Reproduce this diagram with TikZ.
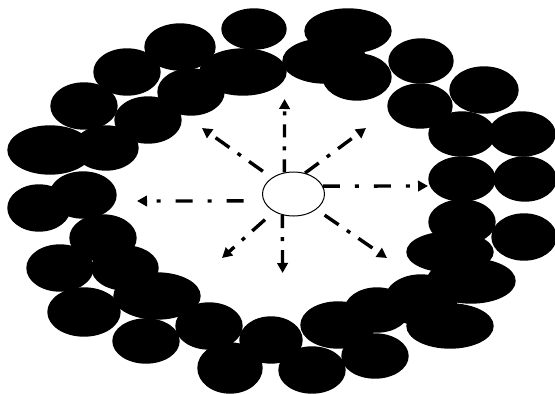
\documentclass[tikz,border=0pt]{standalone}
\usetikzlibrary{arrows.meta,shapes.geometric}
\begin{document}
\begin{tikzpicture}[
  x=1pt, y=-1pt,
  blob/.style={fill=black, draw=black, line width=1.4pt},
  hubnode/.style={draw, ellipse, line width=1pt, inner sep=0pt,
                  minimum width=62pt, minimum height=44pt},
  ray/.style={line width=3.4pt, -{Triangle[length=10pt,width=10.5pt]}},
  vray/.style={ray, dash pattern=on 13pt off 9pt on 4pt off 9pt},
  hray/.style={ray, dash pattern=on 17pt off 15pt on 4pt off 15pt},
  dray/.style={ray, dash pattern=on 17pt off 10pt on 4pt off 10pt},
]
  \useasboundingbox (0,0) rectangle (555,394);

  % ring of cells
  \path[blob] (254,29)  ellipse (32 and 20);
  \path[blob] (348,31)  ellipse (43 and 22);
  \path[blob] (180,47)  ellipse (35 and 23);
  \path[blob] (127,72)  ellipse (33 and 23);
  \path[blob] (84,106)  ellipse (33 and 23);
  \path[blob] (50,150)  ellipse (42 and 24);
  \path[blob] (106,148) ellipse (32 and 22);
  \path[blob] (148,120) ellipse (33 and 23);
  \path[blob] (191,92)  ellipse (33 and 23);
  \path[blob] (243,72)  ellipse (43 and 23);
  \path[blob] (325,61)  ellipse (42 and 22);
  \path[blob] (357,77)  ellipse (34 and 23);
  \path[blob] (421,61)  ellipse (32 and 22);
  \path[blob] (420,106) ellipse (32 and 22);
  \path[blob] (484,90)  ellipse (34 and 23);
  \path[blob] (462,134) ellipse (33 and 22);
  \path[blob] (522,134) ellipse (33 and 22);
  \path[blob] (462,179) ellipse (33 and 22);
  \path[blob] (525,179) ellipse (31 and 22);
  \path[blob] (462,222) ellipse (33 and 22);
  \path[blob] (524,237) ellipse (32 and 23);
  \path[blob] (450,252) ellipse (43 and 20);
  \path[blob] (471,281) ellipse (44 and 22);
  \path[blob] (450,326) ellipse (43 and 22);
  \path[blob] (421,300) ellipse (36 and 25);
  \path[blob] (377,310) ellipse (32 and 22);
  \path[blob] (338,325) ellipse (37 and 23);
  \path[blob] (375,356) ellipse (33 and 22);
  \path[blob] (312,370) ellipse (33 and 23);
  \path[blob] (271,340) ellipse (31 and 23);
  \path[blob] (230,368) ellipse (32 and 25);
  \path[blob] (209,326) ellipse (33 and 23);
  \path[blob] (146,341) ellipse (33 and 22);
  \path[blob] (84,312)  ellipse (36 and 24);
  \path[blob] (157,296) ellipse (43 and 23);
  \path[blob] (125,268) ellipse (33 and 22);
  \path[blob] (60,268)  ellipse (33 and 23);
  \path[blob] (103,238) ellipse (33 and 23);
  \path[blob] (83,195)  ellipse (33 and 23);
  \path[blob] (39,208)  ellipse (31 and 23);

  % centre and rays
  \node[hubnode] (hub) at (293.5,194) {};

  \coordinate (tn)  at (284.6,99);
  \coordinate (ts)  at (282.6,273);
  \coordinate (tw)  at (137,201);
  \coordinate (te)  at (428,186);
  \coordinate (tnw) at (202,128);
  \coordinate (tne) at (366,128);
  \coordinate (tsw) at (222,258);
  \coordinate (tse) at (387,258);

  \draw[vray] (hub.113) -- (tn);
  \draw[vray] (hub.242) -- (ts);
  \draw[hray, shorten <=20pt] (hub.193) -- (tw);
  \draw[hray] (hub.15) -- (te);
  \draw[dray, shorten <=11pt] (hub.143) -- (tnw);
  \draw[dray] (hub.61) -- (tne);
  \draw[dray, shorten <=12pt] (hub.222) -- (tsw);
  \draw[dray, shorten <=10pt] (hub.326) -- (tse);
\end{tikzpicture}
\end{document}
